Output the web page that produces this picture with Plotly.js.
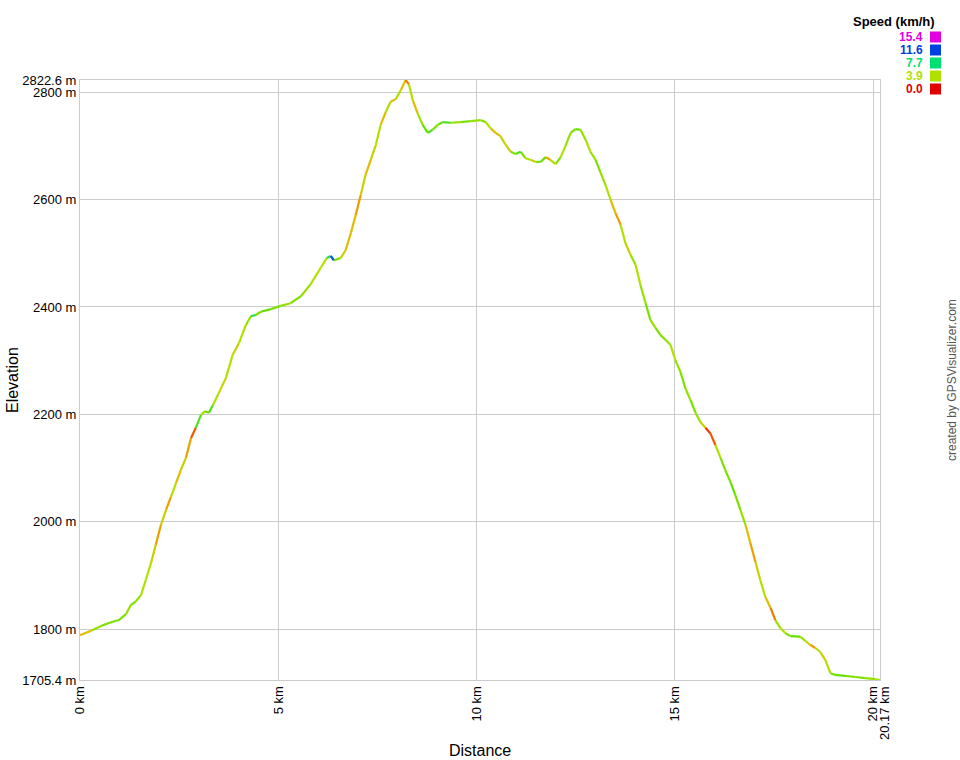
<!DOCTYPE html>
<html>
<head>
<meta charset="utf-8">
<script src="https://cdn.plot.ly/plotly-3.0.1.min.js"></script>
<style>html,body{margin:0;padding:0;background:#fff;}#chart{width:960px;height:760px;}</style>
</head>
<body>
<div id="chart"></div>
<script>
// Distance along track (km)
const distanceKm = [0.00,0.28,0.53,0.78,0.98,1.16,1.28,1.41,1.54,1.66,1.79,1.91,2.04,2.17,2.29,2.42,2.54,2.67,2.80,2.92,3.05,3.15,3.25,3.35,3.50,3.68,3.85,4.01,4.18,4.31,4.43,4.56,4.81,5.06,5.31,5.57,5.82,6.07,6.22,6.32,6.40,6.57,6.70,6.83,6.95,7.08,7.20,7.33,7.46,7.58,7.71,7.83,7.96,8.09,8.21,8.29,8.39,8.51,8.64,8.77,8.89,9.02,9.14,9.35,9.60,9.85,10.10,10.23,10.35,10.48,10.60,10.73,10.86,10.98,11.11,11.23,11.36,11.49,11.61,11.74,11.86,11.99,12.12,12.24,12.37,12.49,12.62,12.75,12.87,13.00,13.12,13.25,13.38,13.50,13.63,13.75,13.88,14.01,14.13,14.26,14.38,14.51,14.63,14.76,14.89,15.01,15.14,15.26,15.39,15.52,15.64,15.77,15.89,16.02,16.15,16.27,16.40,16.52,16.65,16.78,16.90,17.03,17.15,17.28,17.41,17.53,17.66,17.78,17.91,18.16,18.29,18.41,18.54,18.66,18.79,18.92,19.04,19.29,19.55,19.80,20.05,20.17];
// Elevation (m)
const elevationM = [1789,1797,1806,1813,1817,1828,1845,1852,1864,1892,1923,1957,1994,2022,2046,2072,2096,2119,2156,2175,2199,2206,2203,2217,2240,2268,2311,2333,2366,2383,2385,2391,2396,2402,2407,2420,2443,2473,2491,2495,2487,2491,2506,2538,2571,2609,2646,2674,2702,2739,2763,2782,2787,2804,2822.6,2815,2785,2761,2739,2724,2730,2739,2744,2743,2744,2746,2748,2744,2733,2724,2718,2702,2689,2685,2689,2677,2674,2670,2670,2679,2674,2666,2679,2700,2724,2731,2730,2711,2689,2674,2651,2627,2599,2575,2553,2519,2497,2478,2441,2407,2376,2361,2348,2339,2329,2301,2279,2249,2227,2203,2186,2175,2165,2143,2119,2096,2074,2050,2022,1994,1961,1925,1892,1860,1840,1817,1802,1793,1787,1786,1778,1771,1765,1758,1743,1718,1715,1713,1711,1709,1707,1705.4];
// Speed (km/h)
const speedKmh = [3.0,4.5,5,5,5,4.5,5,4.5,4,4,3.5,2.5,3.5,2.5,4,3,3.5,2.5,1.5,6,4,5.5,6,4,3.5,4,3.5,4,4.5,7,5,5.5,5,4.5,5,4.5,4,4,7,11,5,3.5,3,3,2.5,3.5,3,3.5,4,3,4,3,4,3,2,4,3,4.5,5.5,6,5,5.5,6,4.5,5,4.5,5,4,3,3,3.5,3.5,5,6,5,4,3.5,5,5.5,2.5,4,5,4,4.5,5,5.5,4.5,4,4.5,5,4.5,4,3,2.5,4,3.5,4.5,4,4.5,5,4.5,5,5,4.5,4,4.5,5,4.5,5,4.5,3.5,1,1.5,4,5,5,5.5,5,4.5,3,2.5,3.5,4,3,2,4.5,4,5,5.5,4.5,3.5,2.5,4,3.5,4,5,5.5,5,5,4.5,4,3];

const xTickVals = [0,5,10,15,20,20.17];
const xTickText = ['0 km','5 km','10 km','15 km','20 km','20.17 km'];
const yTickVals = [1705.4,1800,2000,2200,2400,2600,2800,2822.6];
const yTickText = ['1705.4 m','1800 m','2000 m','2200 m','2400 m','2600 m','2800 m','2822.6 m'];
const legendSpeeds = [15.4,11.6,7.7,3.9,0.0];
const legendColors = ['#e000e0','#0040e0','#00e070','#b0e000','#e00000'];

const stops = [[0,[230,0,0]],[1.5,[240,90,0]],[2.8,[235,180,0]],[3.9,[180,225,0]],[5.5,[100,225,0]],[7.7,[0,225,110]],[11.6,[0,64,230]],[15.4,[230,0,230]]];
function speedColor(s){
  if(s<=stops[0][0]) return stops[0][1];
  for(let i=1;i<stops.length;i++){
    if(s<=stops[i][0]){
      const a=stops[i-1],b=stops[i];const t=(s-a[0])/(b[0]-a[0]);
      return a[1].map((v,k)=>Math.round(v+(b[1][k]-v)*t));
    }
  }
  return stops[stops.length-1][1];
}
const groups = {};
for(let i=0;i<distanceKm.length-1;i++){
  const c = 'rgb('+speedColor(speedKmh[i]).join(',')+')';
  if(!groups[c]) groups[c]={x:[],y:[]};
  groups[c].x.push(distanceKm[i],distanceKm[i+1],null);
  groups[c].y.push(elevationM[i],elevationM[i+1],null);
}
const traces = Object.keys(groups).map(c=>({
  type:'scatter',mode:'lines',x:groups[c].x,y:groups[c].y,
  line:{color:c,width:2.2},hoverinfo:'skip',showlegend:false,connectgaps:false
}));

const L=80,T=80,W=800,H=600;
const px=(x)=>(x-L)/W, py=(y)=>(T+H-y)/H;
const font='Liberation Sans, Arial, sans-serif';
const nX = xTickVals.length;
const annotations=[
  {text:'<b>Speed (km/h)</b>',x:px(937),y:py(22),xref:'paper',yref:'paper',xanchor:'right',yanchor:'middle',showarrow:false,font:{family:font,size:13,color:'#000'}},
  {text:'Elevation',x:px(12),y:py(380),xref:'paper',yref:'paper',xanchor:'center',yanchor:'middle',textangle:-90,showarrow:false,font:{family:font,size:16,color:'#000'}},
  {text:'Distance',x:px(480),y:py(750),xref:'paper',yref:'paper',xanchor:'center',yanchor:'middle',showarrow:false,font:{family:font,size:16,color:'#000'}},
  {text:'created by GPSVisualizer.com',x:px(952),y:py(380),xref:'paper',yref:'paper',xanchor:'center',yanchor:'middle',textangle:-90,showarrow:false,font:{family:font,size:12,color:'#555'}},
  // last distance label, drawn beside the 20 km label as in the reference
  {text:xTickText[nX-1],x:xTickVals[nX-1],xref:'x',y:py(714),yref:'paper',xanchor:'center',yanchor:'middle',xshift:4,textangle:-90,showarrow:false,font:{family:font,size:13,color:'#000'}}
];
const shapes=[];
legendSpeeds.forEach((s,i)=>{
  const yc=37+i*13;
  annotations.push({text:'<b>'+s.toFixed(1)+'</b>',x:px(925),y:py(yc),xref:'paper',yref:'paper',xanchor:'right',yanchor:'middle',showarrow:false,font:{family:font,size:12,color:legendColors[i]}});
  shapes.push({type:'rect',xref:'paper',yref:'paper',x0:px(930),x1:px(941),y0:py(yc+5.5),y1:py(yc-5.5),fillcolor:legendColors[i],line:{width:0}});
});

const layout={
  width:960,height:760,margin:{l:L,r:80,t:T,b:80},
  paper_bgcolor:'#fff',plot_bgcolor:'#fff',showlegend:false,
  font:{family:font,size:12,color:'#000'},
  xaxis:{range:[0,20.17],tickvals:xTickVals,ticktext:xTickText.slice(0,nX-1).concat(['']),tickangle:-90,showgrid:true,gridcolor:'#cccccc',gridwidth:1,zeroline:false,showline:true,linecolor:'#cccccc',mirror:true,ticks:'',tickfont:{family:font,size:13,color:'#000'}},
  yaxis:{range:[1705.4,2822.6],tickvals:yTickVals,ticktext:yTickText,showgrid:true,gridcolor:'#cccccc',gridwidth:1,zeroline:false,showline:true,linecolor:'#cccccc',mirror:true,ticks:'',tickfont:{family:font,size:13,color:'#000'}},
  annotations:annotations,shapes:shapes
};
Plotly.newPlot('chart',traces,layout,{displayModeBar:false,staticPlot:true});
</script>
</body>
</html>
